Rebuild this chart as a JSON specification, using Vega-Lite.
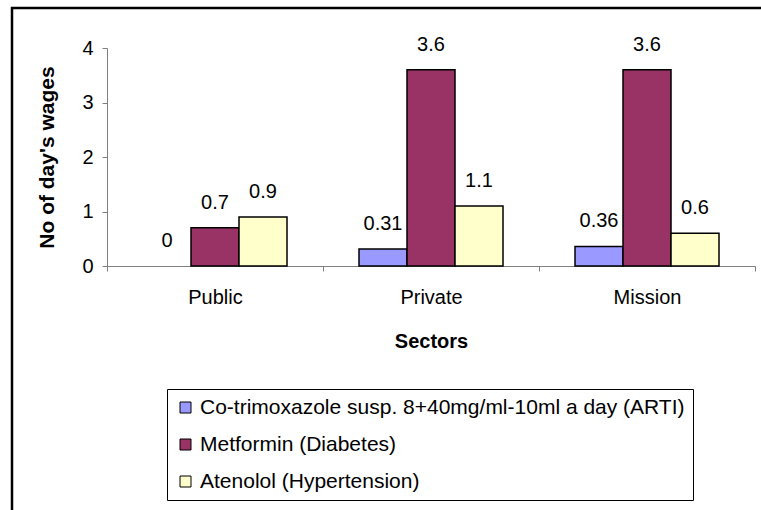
{
  "$schema": "https://vega.github.io/schema/vega-lite/v6.json",
  "autosize": {"type": "none"},
  "padding": {"left": 12, "top": 8, "right": -20, "bottom": -20},
  "width": 769,
  "height": 522,
  "background": "white",
  "config": {
    "font": "Liberation Sans",
    "view": {"stroke": "black", "strokeWidth": 2.5}
  },
  "data": {
    "values": [
      {"sector": "Public", "drug": "Co-trimoxazole susp. 8+40mg/ml-10ml a day (ARTI)", "value": 0},
      {"sector": "Public", "drug": "Metformin (Diabetes)", "value": 0.7},
      {"sector": "Public", "drug": "Atenolol (Hypertension)", "value": 0.9},
      {"sector": "Private", "drug": "Co-trimoxazole susp. 8+40mg/ml-10ml a day (ARTI)", "value": 0.31},
      {"sector": "Private", "drug": "Metformin (Diabetes)", "value": 3.6},
      {"sector": "Private", "drug": "Atenolol (Hypertension)", "value": 1.1},
      {"sector": "Mission", "drug": "Co-trimoxazole susp. 8+40mg/ml-10ml a day (ARTI)", "value": 0.36},
      {"sector": "Mission", "drug": "Metformin (Diabetes)", "value": 3.6},
      {"sector": "Mission", "drug": "Atenolol (Hypertension)", "value": 0.6}
    ]
  },
  "encoding": {
    "x": {
      "field": "sector",
      "type": "nominal",
      "sort": ["Public", "Private", "Mission"],
      "scale": {"range": [95, 743], "paddingInner": 0, "paddingOuter": 0},
      "axis": {
        "orient": "bottom",
        "offset": -264,
        "title": "Sectors",
        "labelAngle": 0,
        "tickBand": "extent",
        "grid": false,
        "domainColor": "#808080",
        "tickColor": "#808080",
        "tickSize": 5,
        "labelFontSize": 20,
        "labelColor": "black",
        "labelPadding": 16,
        "titleFontSize": 20,
        "titleFontWeight": "bold",
        "titlePadding": 24,
        "titleColor": "black"
      }
    },
    "xOffset": {
      "field": "drug",
      "type": "nominal",
      "sort": ["Co-trimoxazole susp. 8+40mg/ml-10ml a day (ARTI)", "Metformin (Diabetes)", "Atenolol (Hypertension)"],
      "scale": {"paddingInner": 0, "paddingOuter": 0.75}
    },
    "y": {
      "field": "value",
      "type": "quantitative",
      "scale": {"domain": [0, 4], "range": [258, 40], "nice": false},
      "axis": {
        "offset": -95,
        "values": [0, 1, 2, 3, 4],
        "grid": false,
        "title": "No of day's wages",
        "titleFontSize": 21,
        "titleFontWeight": "bold",
        "titlePadding": 24,
        "titleColor": "black",
        "labelFontSize": 20,
        "labelPadding": 9,
        "labelColor": "black",
        "tickSize": 5,
        "domainColor": "#808080",
        "tickColor": "#808080"
      }
    }
  },
  "layer": [
    {
      "mark": {"type": "bar", "stroke": "black"},
      "encoding": {
        "strokeWidth": {
          "condition": {"test": "datum.value === 0", "value": 0},
          "value": 1.5
        },
        "fill": {
          "field": "drug",
          "type": "nominal",
          "sort": ["Co-trimoxazole susp. 8+40mg/ml-10ml a day (ARTI)", "Metformin (Diabetes)", "Atenolol (Hypertension)"],
          "scale": {
            "domain": ["Co-trimoxazole susp. 8+40mg/ml-10ml a day (ARTI)", "Metformin (Diabetes)", "Atenolol (Hypertension)"],
            "range": ["#9999FF", "#993366", "#FFFFCC"]
          },
          "legend": {
            "orient": "none",
            "legendX": 155,
            "legendY": 381,
            "title": null,
            "symbolType": "square",
            "symbolSize": 121,
            "symbolStrokeColor": "black",
            "symbolStrokeWidth": 1,
            "labelFontSize": 21,
            "labelColor": "black",
            "labelLimit": 0,
            "labelOffset": 4,
            "rowPadding": 15,
            "padding": 8,
            "strokeColor": "black",
            "fillColor": "white"
          }
        }
      }
    },
    {
      "mark": {"type": "text", "dy": -19, "baseline": "alphabetic", "fontSize": 20, "color": "black"},
      "encoding": {
        "text": {"field": "value", "type": "quantitative"}
      }
    }
  ]
}
